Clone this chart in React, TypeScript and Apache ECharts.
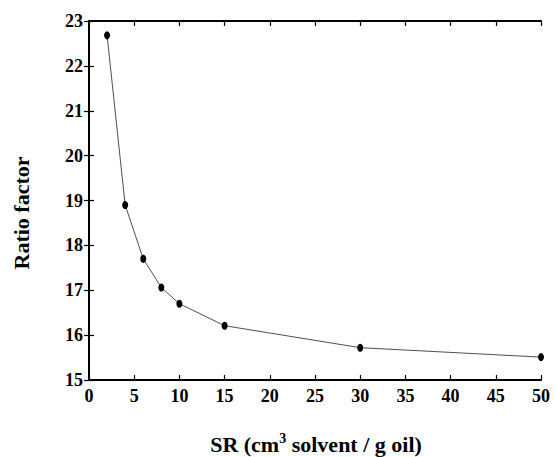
import React, { useEffect, useRef } from "react";
import * as echarts from "echarts";

const srValues = [2, 4, 6, 8, 10, 15, 30, 50];
const ratioFactor = [22.68, 18.9, 17.7, 17.06, 16.7, 16.21, 15.72, 15.51];

const FONT = "Liberation Serif, serif";

export default function App() {
  const ref = useRef<HTMLDivElement>(null);
  useEffect(() => {
    if (!ref.current) return;
    const chart = echarts.init(ref.current, null, { renderer: "svg" });
    const mkLine = () => ({ show: true, lineStyle: { color: "#000000", width: 2 } });
    const mkTick = () => ({ show: true, inside: true, length: 5, lineStyle: { color: "#000000", width: 1.2 } });
    const mkLabel = (margin: number) => ({
      show: true,
      margin,
      color: "#000000",
      fontFamily: FONT,
      fontWeight: "bold",
      fontSize: 18,
    });
    chart.setOption({
      animation: false,
      backgroundColor: "#ffffff",
      textStyle: { fontFamily: FONT, fontWeight: "bold", color: "#000000" },
      grid: { left: 89, right: 14, top: 21, bottom: 77 },
      xAxis: [
        {
          type: "value",
          position: "bottom",
          min: 0,
          max: 50,
          interval: 5,
          axisLine: mkLine(),
          axisTick: mkTick(),
          splitLine: { show: false },
          axisLabel: mkLabel(7),
        },
        {
          type: "value",
          position: "top",
          min: 0,
          max: 50,
          interval: 5,
          axisLine: mkLine(),
          axisTick: mkTick(),
          splitLine: { show: false },
          axisLabel: { show: false },
        },
      ],
      yAxis: [
        {
          type: "value",
          position: "left",
          min: 15,
          max: 23,
          interval: 1,
          axisLine: mkLine(),
          axisTick: mkTick(),
          splitLine: { show: false },
          axisLabel: mkLabel(6),
        },
        {
          type: "value",
          position: "right",
          min: 15,
          max: 23,
          interval: 1,
          axisLine: mkLine(),
          axisTick: mkTick(),
          splitLine: { show: false },
          axisLabel: { show: false },
        },
      ],
      graphic: [
        {
          type: "text",
          x: 316,
          y: 444,
          style: {
            text: "SR (cm{sup|3} solvent / g oil)",
            fill: "#000000",
            font: "bold 22px Liberation Serif",
            align: "center",
            verticalAlign: "middle",
            rich: {
              sup: { font: "bold 14px Liberation Serif", verticalAlign: "bottom", padding: [0, 0, 12, 0] },
            },
          },
        },
        {
          type: "text",
          x: 21,
          y: 213,
          rotation: Math.PI / 2,
          style: {
            text: "Ratio factor",
            fill: "#000000",
            font: "bold 22px Liberation Serif",
            align: "center",
            verticalAlign: "middle",
          },
        },
      ],
      series: [
        {
          type: "line",
          xAxisIndex: 0,
          yAxisIndex: 0,
          data: srValues.map((x, i) => [x, ratioFactor[i]]),
          symbol: "circle",
          symbolSize: [6, 8],
          itemStyle: { color: "#000000" },
          lineStyle: { color: "#222222", width: 0.8 },
          clip: false,
        },
      ],
    });
    return () => chart.dispose();
  }, []);
  return <div ref={ref} style={{ width: 555, height: 457, position: "absolute", left: 0, top: 0 }} />;
}
